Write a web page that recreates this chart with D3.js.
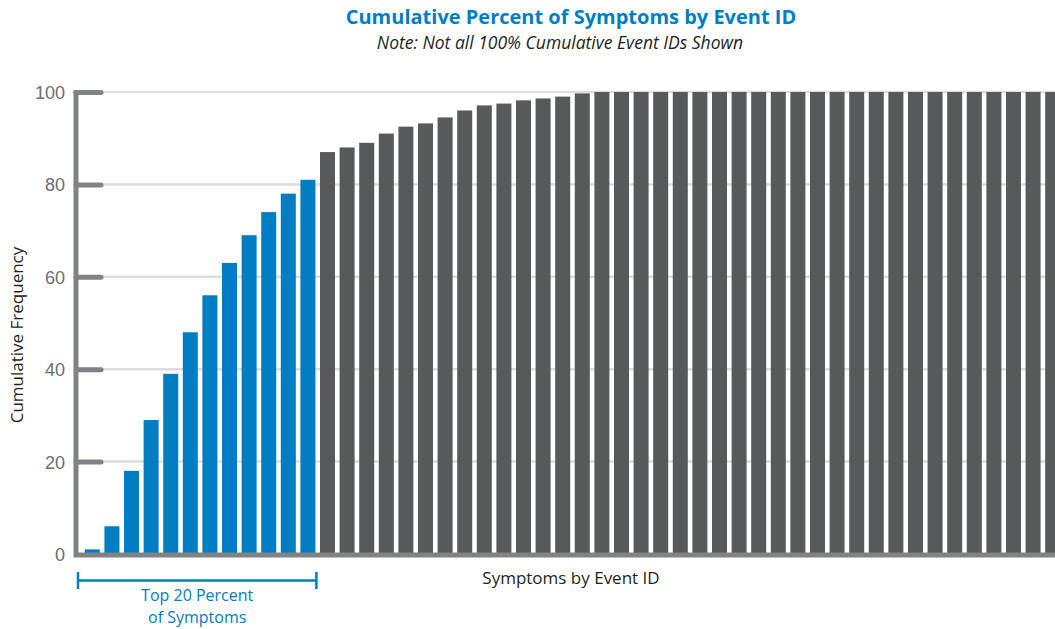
<!DOCTYPE html>
<html>
<head>
<meta charset="utf-8">
<script src="https://cdn.jsdelivr.net/npm/d3@7"></script>
<style>
  html, body { margin: 0; padding: 0; background: #fff; overflow: hidden; }
  svg { display: block; font-family: "Open Sans", "Noto Sans", sans-serif; }
</style>
</head>
<body>
<svg id="chart" width="1055" height="629"></svg>
<script>
// Event IDs, ordered by contribution to total symptoms
const eventIds = d3.range(1, 51).map(i => "E" + i);
// Cumulative percent of symptoms per event ID
const cumulativePct = [
  1, 6, 18, 29, 39, 48, 56, 63, 69, 74, 78, 81,
  87, 88, 89, 91, 92.5, 93.2, 94.5, 96, 97.1, 97.5, 98.2, 98.6, 99, 99.7,
  100, 100, 100, 100, 100, 100, 100, 100, 100, 100, 100, 100,
  100, 100, 100, 100, 100, 100, 100, 100, 100, 100, 100, 100
];
// How many leading event IDs make up the top 20 percent
const topCount = 12;
const yTicks = [0, 20, 40, 60, 80, 100];

const blue = "#007dc3";
const darkGray = "#58595b";
const axisGray = "#818285";

const svg = d3.select("#chart");

const x = d3.scaleBand()
  .domain(eventIds)
  .range([76, 1069])
  .paddingInner(0.235)
  .paddingOuter(0.45);

const y = d3.scaleLinear()
  .domain([0, 100])
  .range([554, 92]);

// light horizontal grid lines
svg.append("g")
  .selectAll("line")
  .data(yTicks.filter(d => d > 0))
  .join("line")
  .attr("x1", 100).attr("x2", 1055)
  .attr("y1", d => y(d)).attr("y2", d => y(d))
  .attr("stroke", "#dcdddf")
  .attr("stroke-width", 2.5);

// bars
svg.append("g")
  .selectAll("rect")
  .data(cumulativePct)
  .join("rect")
  .attr("x", (d, i) => x(eventIds[i]))
  .attr("width", x.bandwidth())
  .attr("y", d => y(d))
  .attr("height", d => y(0) - y(d))
  .attr("fill", (d, i) => i < topCount ? blue : darkGray);

// y axis with thick rounded stub ticks
const yAxis = svg.append("g")
  .attr("transform", "translate(76,0)")
  .call(d3.axisLeft(y).tickValues(yTicks).tickSize(0).tickPadding(11));
yAxis.select(".domain").remove();
yAxis.selectAll(".tick text")
  .attr("font-size", 18)
  .attr("font-weight", 300)
  .attr("fill", "#6d6e71")
  .attr("dy", "0.36em");
yAxis.selectAll(".tick")
  .filter(d => d > 0)
  .append("line")
  .attr("x1", 0).attr("x2", 25)
  .attr("stroke", axisGray)
  .attr("stroke-width", 5)
  .attr("stroke-linecap", "round");

// axis frame
svg.append("path")
  .attr("d", `M76,${y(100) - 2}V${y(0) + 1}H1060`)
  .attr("fill", "none")
  .attr("stroke", axisGray)
  .attr("stroke-width", 5);

// titles
svg.append("text")
  .attr("x", 571).attr("y", 24)
  .attr("text-anchor", "middle")
  .attr("font-size", 20)
  .attr("font-weight", 700)
  .attr("fill", blue)
  .text("Cumulative Percent of Symptoms by Event ID");

svg.append("text")
  .attr("x", 560).attr("y", 49)
  .attr("text-anchor", "middle")
  .attr("font-size", 17.5)
  .attr("font-style", "italic")
  .attr("fill", "#231f20")
  .text("Note: Not all 100% Cumulative Event IDs Shown");

svg.append("text")
  .attr("transform", "translate(23,335) rotate(-90)")
  .attr("text-anchor", "middle")
  .attr("font-size", 17)
  .attr("fill", "#231f20")
  .text("Cumulative Frequency");

svg.append("text")
  .attr("x", 571).attr("y", 584)
  .attr("text-anchor", "middle")
  .attr("font-size", 17)
  .attr("fill", "#231f20")
  .text("Symptoms by Event ID");

// bracket spanning the top 20 percent of event IDs
const bx0 = 78;
const bx1 = x(eventIds[topCount - 1]) + x.bandwidth() + 1;
const bracket = svg.append("g").attr("stroke", blue).attr("stroke-width", 2.5);
bracket.append("line").attr("x1", bx0).attr("x2", bx1).attr("y1", 580.5).attr("y2", 580.5);
bracket.append("line").attr("x1", bx0).attr("x2", bx0).attr("y1", 572).attr("y2", 589);
bracket.append("line").attr("x1", bx1).attr("x2", bx1).attr("y1", 572).attr("y2", 589);

const note = svg.append("text")
  .attr("x", (bx0 + bx1) / 2)
  .attr("text-anchor", "middle")
  .attr("font-size", 16)
  .attr("fill", blue);
note.append("tspan").attr("x", (bx0 + bx1) / 2).attr("y", 601).text("Top 20 Percent");
note.append("tspan").attr("x", (bx0 + bx1) / 2).attr("y", 623).text("of Symptoms");
</script>
</body>
</html>
